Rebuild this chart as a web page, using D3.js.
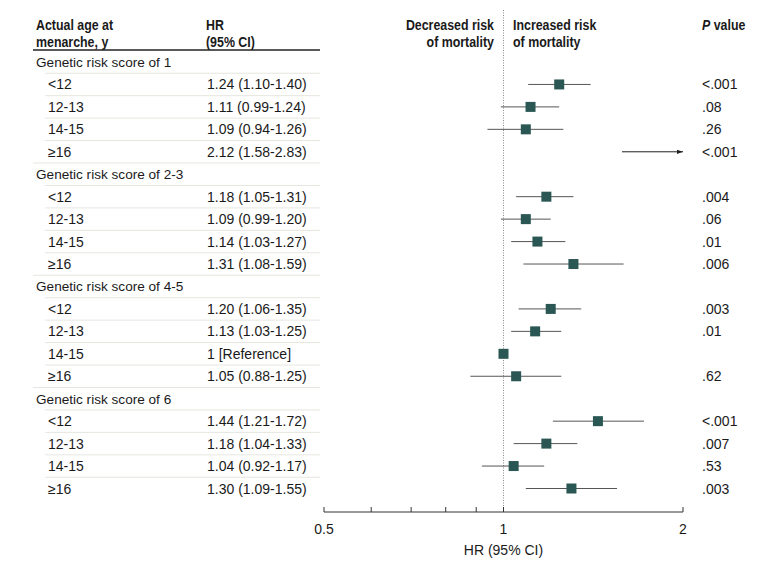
<!DOCTYPE html>
<html><head><meta charset="utf-8">
<script src="https://cdn.jsdelivr.net/npm/d3@7"></script>
<style>body{margin:0;background:#fff}svg{display:block}text{font-family:"Liberation Sans",Arial,sans-serif;fill:#1a1a1a}</style>
</head><body>
<script>
const groups = ["Genetic risk score of 1","Genetic risk score of 2-3","Genetic risk score of 4-5","Genetic risk score of 6"];
const ages = ["<12","12-13","14-15","\u226516"];
const hr = [[1.24,1.11,1.09,2.12],[1.18,1.09,1.14,1.31],[1.20,1.13,1,1.05],[1.44,1.18,1.04,1.30]];
const lo = [[1.10,0.99,0.94,1.58],[1.05,0.99,1.03,1.08],[1.06,1.03,null,0.88],[1.21,1.04,0.92,1.09]];
const hi = [[1.40,1.24,1.26,2.83],[1.31,1.20,1.27,1.59],[1.35,1.25,null,1.25],[1.72,1.33,1.17,1.55]];
const hrLabels = [["1.24 (1.10-1.40)","1.11 (0.99-1.24)","1.09 (0.94-1.26)","2.12 (1.58-2.83)"],
 ["1.18 (1.05-1.31)","1.09 (0.99-1.20)","1.14 (1.03-1.27)","1.31 (1.08-1.59)"],
 ["1.20 (1.06-1.35)","1.13 (1.03-1.25)","1 [Reference]","1.05 (0.88-1.25)"],
 ["1.44 (1.21-1.72)","1.18 (1.04-1.33)","1.04 (0.92-1.17)","1.30 (1.09-1.55)"]];
const pvals = [["<.001",".08",".26","<.001"],[".004",".06",".01",".006"],[".003",".01","",".62"],["<.001",".007",".53",".003"]];
const majorTicks = [0.5,1,2];
const minorTicks = [0.6,0.7,0.8,0.9];

const W=780,H=566;
const svg=d3.select("body").append("svg").attr("width",W).attr("height",H);
const defs=svg.append("defs");
defs.append("marker").attr("id","arr").attr("viewBox","0 0 10 10").attr("refX",10).attr("refY",5)
 .attr("markerWidth",6).attr("markerHeight",6).attr("orient","auto")
 .append("path").attr("d","M0,1.5L10,5L0,8.5Z").attr("fill","#222");

const x=d3.scaleLog().domain([0.5,2]).range([324,683]);
const rows=[];
groups.forEach((g,gi)=>{
  rows.push({type:"g",label:g,gi});
  ages.forEach((a,ai)=>rows.push({type:"r",label:a,gi,ai}));
});
const y=d3.scalePoint().domain(d3.range(rows.length)).range([62,488.5]);
const step=y.step();
const fsL=13.6, fsN=14;

// header (condensed bold look)
const hd=svg.append("g").attr("font-weight","bold").attr("font-size",15.5);
function ht(xp,yp,txt,anchor){
  const t=hd.append("text").attr("transform",`translate(${xp},${yp}) scale(0.8,1)`).attr("text-anchor",anchor||"start");
  return t.text(txt);
}
ht(36,29.5,"Actual age at"); ht(36,47,"menarche, y");
ht(206,29.5,"HR"); ht(206,47,"(95% CI)");
ht(494,29.5,"Decreased risk","end"); ht(494,47,"of mortality","end");
ht(513,29.5,"Increased risk"); ht(513,47,"of mortality");
const pv=hd.append("text").attr("transform","translate(702,29.5) scale(0.8,1)");
pv.append("tspan").attr("font-style","italic").text("P");
pv.append("tspan").text(" value");
svg.append("line").attr("x1",33).attr("x2",320).attr("y1",50).attr("y2",50).attr("stroke","#222").attr("stroke-width",1.3);

rows.forEach((r,i)=>{
  if(i===rows.length-1) return;
  const next=rows[i+1];
  const x1 = next.type==="g" ? 33 : 45;
  svg.append("line").attr("x1",x1).attr("x2",320).attr("y1",y(i)+step/2).attr("y2",y(i)+step/2)
    .attr("stroke","#e6e6e0").attr("stroke-width",1);
});

svg.append("line").attr("x1",x(1)).attr("x2",x(1)).attr("y1",10).attr("y2",512)
 .attr("stroke","#888").attr("stroke-width",1).attr("stroke-dasharray","1,1.5");

const body=svg.append("g");
rows.forEach((r,i)=>{
  const yy=y(i);
  if(r.type==="g"){
    body.append("text").attr("x",36).attr("y",yy).attr("dy","0.36em").attr("font-size",fsL).text(r.label);
    return;
  }
  body.append("text").attr("x",48).attr("y",yy).attr("dy","0.36em").attr("font-size",fsN).text(r.label);
  body.append("text").attr("x",207).attr("y",yy).attr("dy","0.36em").attr("font-size",fsN).text(hrLabels[r.gi][r.ai]);
  body.append("text").attr("x",702).attr("y",yy).attr("dy","0.36em").attr("font-size",fsN).text(pvals[r.gi][r.ai]);
  const h=hr[r.gi][r.ai], l=lo[r.gi][r.ai], u=hi[r.gi][r.ai];
  if(h>x.domain()[1]){
    svg.append("line").attr("x1",x(l)).attr("x2",x(2)).attr("y1",yy).attr("y2",yy)
      .attr("stroke","#222").attr("stroke-width",1).attr("marker-end","url(#arr)");
    return;
  }
  if(l!==null){
    svg.append("line").attr("x1",x(l)).attr("x2",x(u)).attr("y1",yy).attr("y2",yy)
      .attr("stroke","#555").attr("stroke-width",1);
  }
  const s=10;
  svg.append("rect").attr("x",x(h)-s/2).attr("y",yy-s/2).attr("width",s).attr("height",s).attr("fill","#2a5753");
});

const ax=svg.append("g").attr("transform","translate(0,512)");
ax.append("line").attr("x1",x(0.5)).attr("x2",x(2)).attr("stroke","#333");
ax.selectAll(".mj").data(majorTicks).join("line").attr("x1",d=>x(d)).attr("x2",d=>x(d)).attr("y1",0).attr("y2",-5).attr("stroke","#333");
ax.selectAll(".mn").data(minorTicks).join("line").attr("x1",d=>x(d)).attr("x2",d=>x(d)).attr("y1",0).attr("y2",-5).attr("stroke","#333");
ax.selectAll(".tl").data(majorTicks).join("text").attr("x",d=>x(d)).attr("y",22).attr("text-anchor","middle").attr("font-size",fsN).text(d=>d);
svg.append("text").attr("x",x(1)).attr("y",555).attr("text-anchor","middle").attr("font-size",fsN).text("HR (95% CI)");
</script>
</body></html>
